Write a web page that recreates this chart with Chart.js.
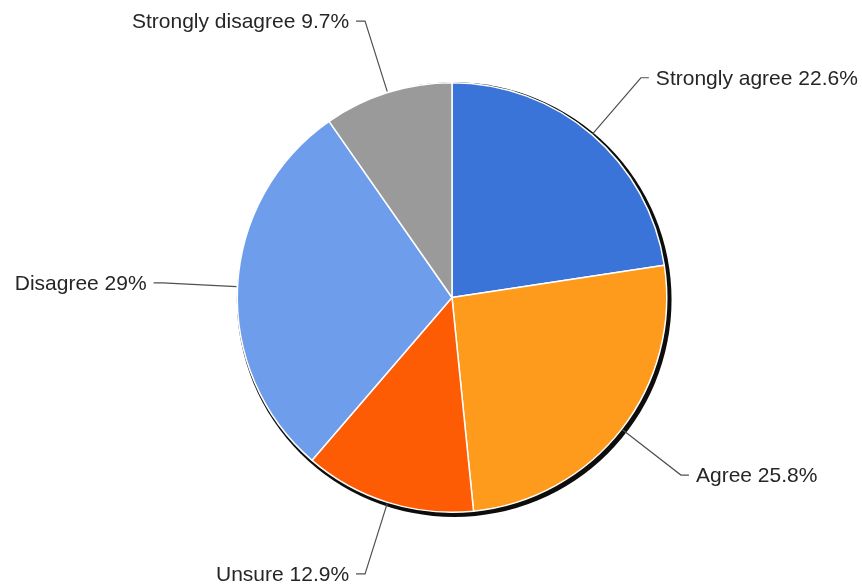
<!DOCTYPE html>
<html>
<head>
<meta charset="utf-8">
<script src="https://cdn.jsdelivr.net/npm/chart.js@4/dist/chart.umd.min.js"></script>
<style>
  html, body { margin: 0; padding: 0; background: #ffffff; }
  #wrap { width: 862px; height: 585px; }
</style>
</head>
<body>
<div id="wrap"><canvas id="pie" width="862" height="585"></canvas></div>
<script>
// Survey responses, clockwise from 12 o'clock
const categories = ['Strongly agree', 'Agree', 'Unsure', 'Disagree', 'Strongly disagree'];
const shares = [22.6, 25.8, 12.9, 29, 9.7];
const sliceColors = ['#3a74d8', '#fe9a1c', '#fe5b05', '#6e9deb', '#9a9a9a'];

// Dark rim offset towards the lower right, drawn under the slices
const rimShadow = {
  id: 'rimShadow',
  beforeDatasetsDraw(chart) {
    const arc = chart.getDatasetMeta(0).data[0];
    if (!arc) return;
    const { x, y, outerRadius } = arc.getProps(['x', 'y', 'outerRadius'], true);
    const ctx = chart.ctx;
    ctx.save();
    ctx.fillStyle = '#0d0d0d';
    ctx.beginPath();
    ctx.arc(x + 2.2, y + 2.2, outerRadius + 2.6, 0, Math.PI * 2);
    ctx.fill();
    ctx.restore();
  }
};

// Outside labels joined to each slice by an elbowed leader line
const leaderLabels = {
  id: 'leaderLabels',
  afterDatasetsDraw(chart) {
    const meta = chart.getDatasetMeta(0);
    const ctx = chart.ctx;
    ctx.save();
    ctx.font = '21px "Liberation Sans", Arial, sans-serif';
    ctx.textBaseline = 'middle';
    meta.data.forEach((arc, i) => {
      const { x, y, startAngle, endAngle, outerRadius } =
        arc.getProps(['x', 'y', 'startAngle', 'endAngle', 'outerRadius'], true);
      const mid = (startAngle + endAngle) / 2;
      const cos = Math.cos(mid), sin = Math.sin(mid);
      const x0 = x + cos * (outerRadius + 1), y0 = y + sin * (outerRadius + 1);
      const x1 = x + cos * (outerRadius + 75), y1 = y + sin * (outerRadius + 75);
      const right = cos >= 0;
      const x2 = x1 + (right ? 8 : -9);
      ctx.strokeStyle = '#505050';
      ctx.lineWidth = 1.2;
      ctx.beginPath();
      ctx.moveTo(x0, y0);
      ctx.lineTo(x1, y1);
      ctx.lineTo(x2, y1);
      ctx.stroke();
      const text = categories[i] + ' ' + shares[i] + '%';
      ctx.fillStyle = '#262626';
      ctx.textAlign = right ? 'left' : 'right';
      ctx.fillText(text, x2 + (right ? 7 : -7), y1 + 1);
    });
    ctx.restore();
  }
};

new Chart(document.getElementById('pie'), {
  type: 'pie',
  data: {
    labels: categories,
    datasets: [{
      data: shares,
      backgroundColor: sliceColors,
      borderColor: '#ffffff',
      borderWidth: 1.5
    }]
  },
  options: {
    responsive: false,
    animation: false,
    layout: { padding: { top: 82, bottom: 72, left: 236, right: 194 } },
    plugins: {
      legend: { display: false },
      tooltip: { enabled: false }
    }
  },
  plugins: [rimShadow, leaderLabels]
});
</script>
</body>
</html>
